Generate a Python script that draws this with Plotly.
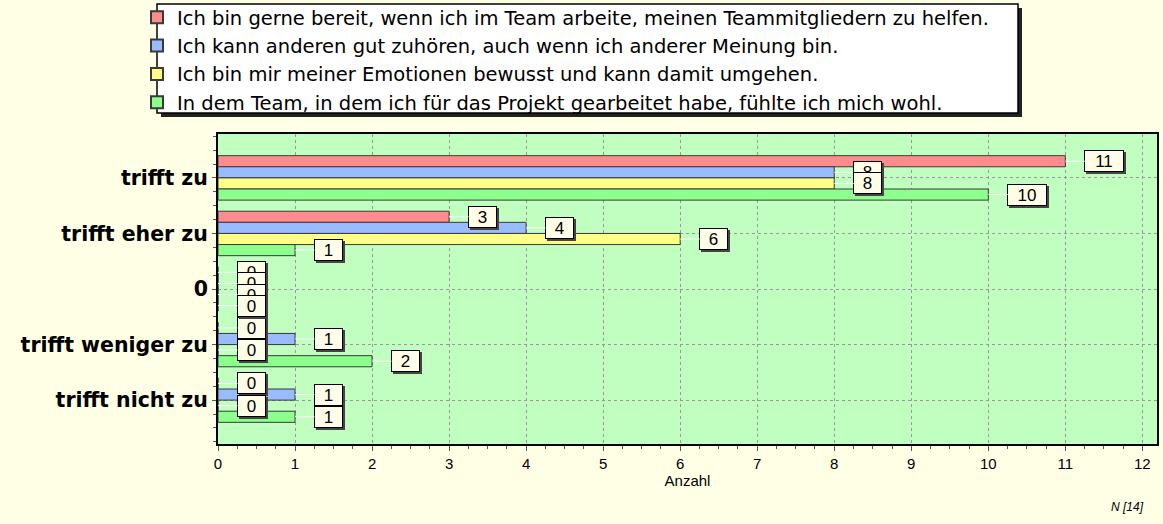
import plotly.graph_objects as go

categories = ["trifft zu", "trifft eher zu", "0", "trifft weniger zu", "trifft nicht zu"]
series_names = [
    "Ich bin gerne bereit, wenn ich im Team arbeite, meinen Teammitgliedern zu helfen.",
    "Ich kann anderen gut zuhören, auch wenn ich anderer Meinung bin.",
    "Ich bin mir meiner Emotionen bewusst und kann damit umgehen.",
    "In dem Team, in dem ich für das Projekt gearbeitet habe, fühlte ich mich wohl.",
]
red_values = [11, 3, 0, 0, 0]
blue_values = [8, 4, 0, 1, 1]
yellow_values = [8, 6, 0, 0, 0]
green_values = [10, 1, 0, 2, 1]
colors = ["#ff8c8c", "#99bbff", "#ffff88", "#8cff8c"]
x_ticks = list(range(0, 13))

all_values = [red_values, blue_values, yellow_values, green_values]
ypos = list(range(len(categories)))

BG = "#ffffe6"
W, H = 1163, 524
ML, MR, MT, MB = 218, 6, 134, 80
PW, PH = W - ML - MR, H - MT - MB


def px_x(p):
    return (p - ML) / PW


def px_y(p):
    return (H - MB - p) / PH


fig = go.Figure()
for name, vals, col in zip(series_names, all_values, colors):
    fig.add_trace(go.Bar(
        y=ypos, x=vals, name=name, orientation="h",
        marker=dict(color=col, line=dict(color="#3a3a3a", width=1)),
        hoverinfo="x+name",
    ))

annotations = []
n = len(all_values)
for i, vals in enumerate(all_values):
    off = -0.4 + 0.8 / n * (i + 0.5)
    for j, v in enumerate(vals):
        txt = str(v)
        w = 27 if len(txt) == 1 else 38
        tot = w + 2
        annotations.append(dict(
            x=v, y=j + off, xref="x", yref="y", text=txt,
            showarrow=True, arrowcolor="rgba(0,0,0,0)", arrowhead=0,
            ax=19 + tot / 2 + 2, ay=2, width=w, height=20,
            bgcolor="#444444", bordercolor="#444444", borderwidth=1, borderpad=0,
            font=dict(family="Liberation Sans, Arial", size=17, color="#444444"),
        ))
        annotations.append(dict(
            x=v, y=j + off, xref="x", yref="y", text=txt,
            showarrow=True, arrowcolor="white", arrowhead=0, arrowwidth=1,
            standoff=0, ax=19 + tot / 2, ay=0, width=w, height=20,
            bgcolor="#fffde8", bordercolor="black", borderwidth=1, borderpad=0,
            font=dict(family="Liberation Sans, Arial", size=17, color="black"),
        ))

annotations.append(dict(
    text="<i>N [14]</i>", xref="paper", yref="paper", x=px_x(1146), y=px_y(507),
    xanchor="right", yanchor="middle", showarrow=False,
    font=dict(family="Liberation Sans, Arial", size=12, color="black"),
))

# legend frame (box + drop shadow), drawn behind the legend
lx0, lx1, ly0, ly1 = 157, 1018, 4, 113
shapes = [
    dict(type="rect", xref="paper", yref="paper",
         x0=px_x(lx0 + 4), x1=px_x(lx1 + 4), y0=px_y(ly0 + 4), y1=px_y(ly1 + 4),
         fillcolor="#222222", line=dict(width=0), layer="above"),
    dict(type="rect", xref="paper", yref="paper",
         x0=px_x(lx0), x1=px_x(lx1), y0=px_y(ly0), y1=px_y(ly1),
         fillcolor="white", line=dict(color="black", width=1.5), layer="above"),
]

fig.update_layout(
    width=W, height=H,
    paper_bgcolor=BG, plot_bgcolor="#c0ffc0",
    margin=dict(l=ML, r=MR, t=MT, b=MB, autoexpand=False),
    barmode="group", bargap=0.2, bargroupgap=0,
    annotations=annotations, shapes=shapes,
    showlegend=True,
    legend=dict(
        x=px_x(137), y=px_y(-2), xanchor="left", yanchor="top",
        bgcolor="rgba(0,0,0,0)", borderwidth=0,
        font=dict(family="DejaVu Sans", size=19.5, color="black"),
        traceorder="normal", itemsizing="constant",
        tracegroupgap=0, itemwidth=30,
    ),
    xaxis=dict(
        range=[0, 12.19], tickvals=x_ticks, ticktext=[str(t) for t in x_ticks],
        showgrid=True, gridcolor="#999999", griddash="3px,3px", gridwidth=1,
        showline=True, linecolor="black", linewidth=2, mirror=True,
        ticks="outside", ticklen=5, tickcolor="#555",
        minor=dict(dtick=0.25, ticks="outside", ticklen=3, tickcolor="#555", showgrid=False),
        zeroline=False, automargin=False,
        tickfont=dict(family="Liberation Sans, Arial", size=15, color="black"),
        title=dict(text="Anzahl", standoff=2,
                   font=dict(family="Liberation Sans, Arial", size=15, color="black")),
    ),
    yaxis=dict(
        range=[4.79, -0.79], tickvals=ypos, ticktext=categories,
        showgrid=True, gridcolor="#999999", griddash="3px,3px", gridwidth=1,
        showline=True, linecolor="black", linewidth=2, mirror=True,
        ticks="outside", ticklen=4, tickcolor="#555",
        minor=dict(dtick=0.25, tick0=0, ticks="outside", ticklen=3, tickcolor="#555", showgrid=False),
        zeroline=False, automargin=False,
        tickfont=dict(family="DejaVu Sans, Verdana", size=20.5, color="black", weight="bold"),
    ),
)

fig.write_html(
    "out.html",
    config={"displayModeBar": False},
    post_script="document.body.style.margin='0';document.body.style.padding='0';",
)
